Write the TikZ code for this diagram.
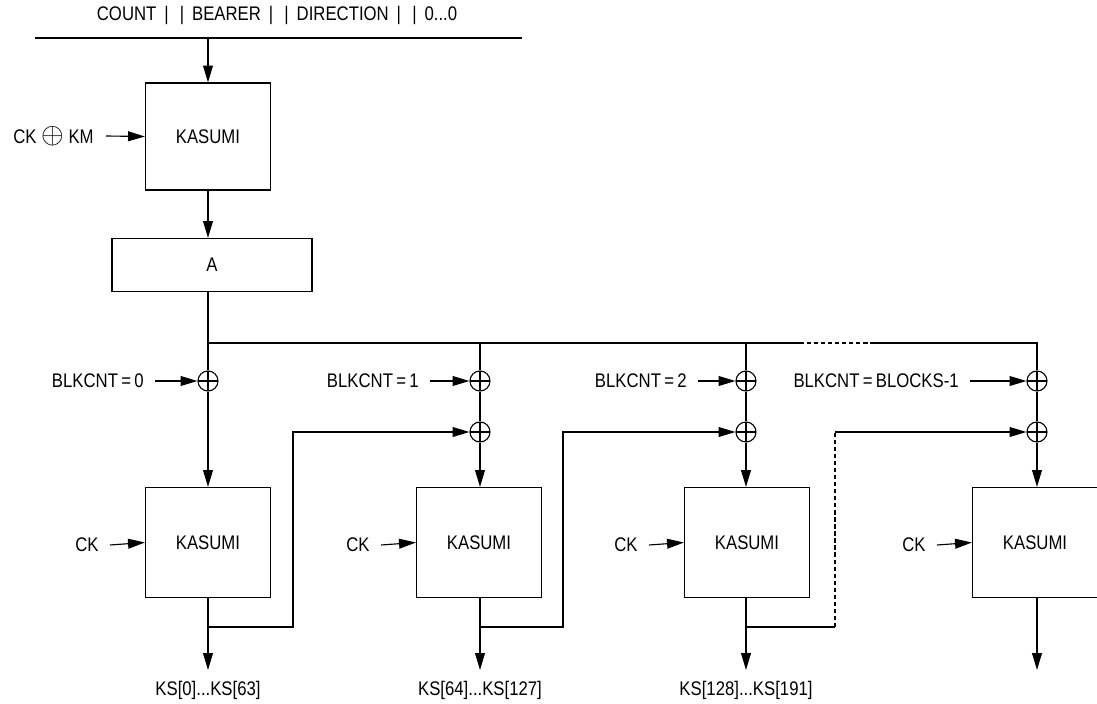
\documentclass[tikz,border=0pt]{standalone}
\usepackage{fontspec}
\setmainfont{Liberation Sans}[FakeStretch=0.85]
\usetikzlibrary{arrows.meta}

\tikzset{
  blk/.style={draw, thick, minimum width=3.125cm, minimum height=2.75cm, inner sep=0pt},
  xor/.style={draw, circle, minimum size=0.5cm, inner sep=0pt,
    path picture={\draw (path picture bounding box.north) -- (path picture bounding box.south)
                        (path picture bounding box.west) -- (path picture bounding box.east);}},
  lbl/.style={inner sep=2pt},
  gap/.style={dash pattern=on 3pt off 2pt},
}

\begin{document}
\begin{tikzpicture}[x=0.025cm, y=-0.025cm, >={Triangle[length=12pt, width=7pt]}, thick, font=\fontsize{14}{16}\selectfont]
 \useasboundingbox (0,0) rectangle (1097,703);

 %top input
 \node[lbl] (iv) at (277,15) {COUNT\, |\,\, |\, BEARER\, |\,\, |\, DIRECTION\, |\,\, |\, 0...0};
 \draw (35,38) -- (522,38);
 \coordinate (in) at (208,38);

 %level 1
 \node[blk, minimum height=2.675cm] (K0) at (208,136.5) {KASUMI};
 \node[lbl, anchor=east] (ckkm) at (97,136) {CK {\fontsize{20}{20}\selectfont$\oplus$} KM};
 \draw[->] (ckkm.east) ++(9,0) -- (K0.west);
 \draw[->] (in) -- (K0.north);

 \node[draw, thick, minimum width=5cm, minimum height=1.325cm, inner sep=0pt] (A) at (212,265) {A};
 \draw[->] (K0.south) -- (K0.south |- A.north);

 %split
 \coordinate (S0) at (208,343);
 \draw (K0.south |- A.south) -- (S0);

 %level 2
 \foreach \i/\x/\bx/\dl/\cnt in {1/208/208/61/0, 2/480/479/58/1, 3/746/747/56/2, 4/1037/1035/75/BLOCKS-1} {
   \node[xor] (X\i) at (\x,381) {};
   \node[lbl, anchor=east] (B\i) at (\x-\dl,381) {BLKCNT\,=\,\cnt};
   \draw[->] (B\i.east) ++(8,0) -- (X\i.west);
   \node[blk] (K\i) at (\bx,542.5) {KASUMI};
   \node[lbl, anchor=east] (C\i) at (\bx-106,545) {CK};
   \draw[->] (C\i.east) ++(8,0) -- (K\i.west);
   \coordinate (O\i) at (\x,670);
   \draw[->] (X\i |- K\i.south) -- (O\i);
 }

 %second xor
 \foreach \i in {2,3,4} {
   \node[xor] (Y\i) at (X\i |- 0,432) {};
   \draw (X\i) -- (Y\i);
   \draw[->] (Y\i) -- (Y\i |- K\i.north);
 }
 \draw[->] (X1) -- (X1 |- K1.north);

 %common line
 \draw (S0) -- (X1);
 \draw (S0) -- (800,343);
 \draw[gap] (800,343) -- (875,343);
 \draw (875,343) -- (X4.north |- 0,343) -- (X4.north);
 \draw (X2 |- 0,343) -- (X2.north);
 \draw (X3 |- 0,343) -- (X3.north);

 %feedback
 \draw[->] (208,627) -- (293,627) -- (293,432) -- (Y2.west);
 \draw[->] (480,627) -- (563,627) -- (563,432) -- (Y3.west);
 \draw (746,627) -- (835,627);
 \draw[gap] (835,627) -- (835,432);
 \draw[->] (835,432) -- (Y4.west);

 %outputs
 \node[lbl] (ks1) at (208,690) {KS[0]...KS[63]};
 \node[lbl] (ks2) at (480,690) {KS[64]...KS[127]};
 \node[lbl] (ks3) at (746,690) {KS[128]...KS[191]};
\end{tikzpicture}
\end{document}
